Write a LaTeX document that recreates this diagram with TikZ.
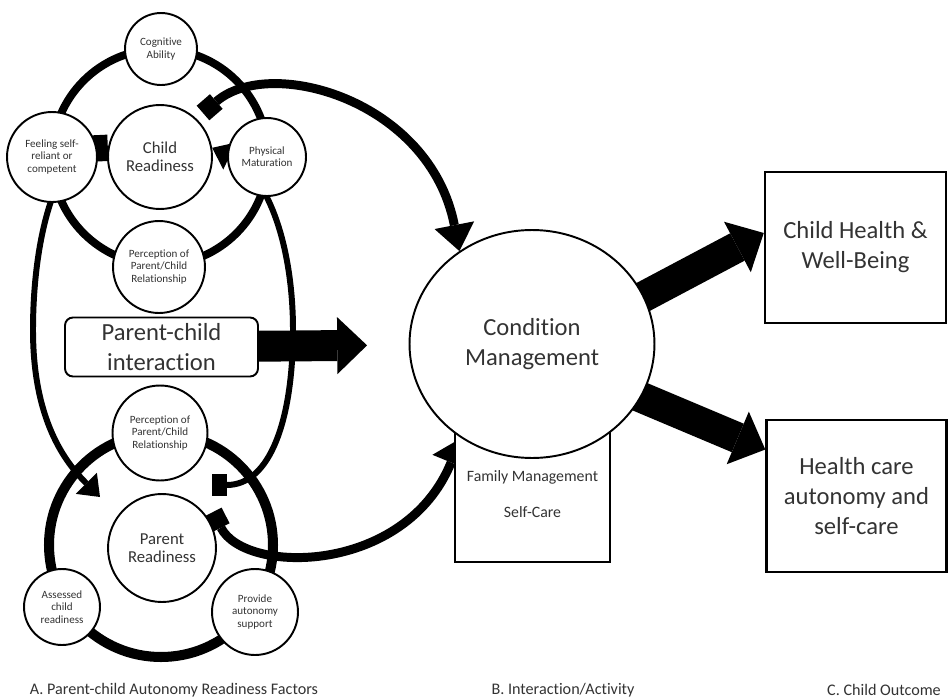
\documentclass[tikz,border=0pt]{standalone}
\usepackage{fontspec}
\setmainfont{Carlito}[Ligatures={NoCommon}]
\usetikzlibrary{arrows.meta,shapes.geometric,backgrounds}

\begin{document}
\begin{tikzpicture}[x=0.02cm, y=-0.02cm,
	circ/.style={draw, circle, fill=white, line width=1.1pt, inner sep=0pt, align=center, text=black!80},
	smalltxt/.style={font=\fontsize{6.3}{7}\selectfont},
	midtxt/.style={font=\fontsize{9.5}{10.2}\selectfont},
	bigtxt/.style={font=\fontsize{14}{17}\selectfont},
	outbox/.style={draw, rectangle, fill=white, line width=1.4pt, inner sep=1pt, align=center, text=black!80},
	ringline/.style={line width=4.5pt},
	loopline/.style={line width=3.4pt, {Square[length=8.5pt,width=15pt,line width=0pt]}-{Triangle[length=11pt,width=17pt,line width=0pt]}},
	curvearrow/.style={line width=5.1pt, {Square[length=10pt,width=11pt,line width=0pt]}-{Triangle[length=15pt,width=23pt,line width=0pt]}},
	blockarrow/.style={line width=17.6pt, -{Triangle[length=17pt,width=32.5pt,line width=0pt]}},
	footlabel/.style={text=black!80, font=\fontsize{9.2}{10}\selectfont}]
		\useasboundingbox (0,0) rectangle (948,700);
%		\draw[color=gray] (0,0) rectangle (948,700);
		% CHILD READINESS
		\node[circ, midtxt, minimum size=2.08cm] (child) at (160,157) {Child\\Readiness};
		\node[circ, smalltxt, minimum size=1.44cm] (cog) at (161,49) {Cognitive\\Ability};
		\node[circ, smalltxt, minimum size=1.8cm] (feel) at (52,157) {Feeling self-\\reliant or\\competent};
		\node[circ, smalltxt, minimum size=1.56cm] (phys) at (267,157) {Physical\\Maturation};
		\node[circ, smalltxt, minimum size=1.84cm] (percA) at (159,267) {Perception of\\Parent/Child\\Relationship};
		\node[draw, rounded corners=4.5pt, fill=white, line width=1.1pt, inner sep=0.5pt, minimum width=3.86cm, minimum height=1.18cm, align=center, text=black!80, bigtxt] (pci) at (161.5,347) {Parent-child\\interaction};
		% PARENT READINESS
		\node[circ, smalltxt, minimum size=1.9cm] (percB) at (160,433) {Perception of\\Parent/Child\\Relationship};
		\node[circ, midtxt, minimum size=2.16cm] (parent) at (162,548) {Parent\\Readiness};
		\node[circ, smalltxt, minimum size=1.52cm] (assess) at (62,607) {Assessed\\child\\readiness};
		\node[circ, smalltxt, minimum size=1.72cm] (provide) at (255,612) {Provide\\autonomy\\support};
		% CONDITION MANAGEMENT
		\node[outbox, font=\fontsize{9}{10}\selectfont, minimum width=3.1cm, minimum height=2.72cm] (fam) at (532.5,494) {Family Management\\[10pt]Self-Care};
		\node[circ, ellipse, bigtxt, minimum width=4.9cm, minimum height=4.56cm] (cond) at (532,344) {Condition\\Management};
		% OUTCOMES
		\node[outbox, bigtxt, minimum width=3.62cm, minimum height=3.02cm] (health) at (855.5,247.5) {Child Health \&\\Well-Being};
		\node[outbox, bigtxt, minimum width=3.6cm, minimum height=3.04cm] (auto) at (856.5,496) {Health care\\autonomy and\\self-care};
		\node[footlabel] (capA) at (174,690) {A. Parent-child Autonomy Readiness Factors};
		\node[footlabel] (capB) at (563,690) {B. Interaction/Activity};
		\node[footlabel] (capC) at (884,690) {C. Child Outcome};
		\coordinate (downTip) at (100,497);
		\coordinate (upTail) at (212,485);
		\coordinate (topTail) at (203,113);
		\coordinate (botTail) at (213,512);
		\begin{scope}[on background layer]
			\draw[ringline] (child.center) circle[radius=108];
			\draw[ringline, line width=5.7pt] (161,545) circle[radius=112];
			% CHILD <-> PARENT
			\draw[loopline] (child.170) .. controls (60,150) and (33,230) .. (33,330) .. controls (33,420) and (65,462) .. (downTip);
			\draw[loopline, {Square[length=8.5pt,width=12.5pt,line width=0pt]}-{Triangle[length=11pt,width=17pt,line width=0pt]}] (upTail) .. controls (270,485) and (293,420) .. (293,330) .. controls (293,250) and (270,175) .. (child.10);
			% INTO CONDITION MANAGEMENT
			\draw[curvearrow] (topTail) .. controls (270,55) and (430,100) .. (cond.128);
			\draw[curvearrow] (botTail) .. controls (245,575) and (405,575) .. (cond.233);
			\draw[blockarrow, shorten >=0.83cm] (pci) -- (cond);
			\draw[blockarrow, shorten <=-0.3cm] (cond.23) -- (health.171);
			\draw[blockarrow, shorten <=-0.3cm] (cond.-26) -- (auto.153);
		\end{scope}
	\end{tikzpicture}
\end{document}
